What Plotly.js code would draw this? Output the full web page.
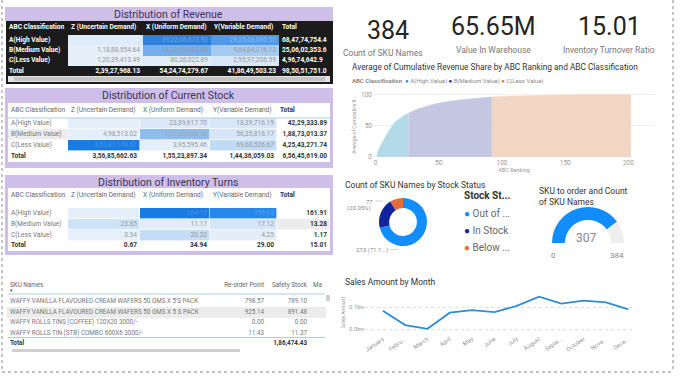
<!DOCTYPE html>
<html><head><meta charset="utf-8">
<script src="https://cdn.plot.ly/plotly-3.0.1.min.js"></script>
<style>html,body{margin:0;padding:0;background:#fff}#c{width:680px;height:377px}</style>
</head><body><div id="c"></div><script>
const W=680,H=377;
const px=v=>v/W, py=v=>1-v/H;

// ---------------- data ----------------
const abcClasses=['A(High Value)','B(Medium Value)','C(Less Value)'];
const demandTypes=['Z (Uncertain Demand)','X (Uniform Demand)','Y(Variable Demand)'];

const revenueZ=[null,11888554.64,12039413.49];
const revenueX=[392206673.92,142229582.86,8038022.89];
const revenueY=[292568080.52,96484216.12,29597206.59];
const revenueRowTotal=[684774754.44,250602353.62,49674642.97];
const revenueColTotal=[23927968.13,542474279.67,418649503.23];
const revenueGrandTotal=985051751.03;

const stockZ=[null,498513.02,35187149.61];
const stockX=[2389617.70,12738684.18,395595.46];
const stockY=[1839716.19,5635816.17,6960526.67];
const stockRowTotal=[4229333.89,18873013.37,42543271.74];
const stockColTotal=[35685662.63,15523897.34,14436059.03];
const stockGrandTotal=65645619.00;

const turnsZ=[null,23.85,0.34];
const turnsX=[164.13,11.17,20.32];
const turnsY=[159.03,17.12,4.25];
const turnsRowTotal=[161.91,13.28,1.17];
const turnsColTotal=[0.67,34.94,29.00];
const turnsGrandTotal=15.01;

const skuNames=["WAFFY VANILLA FLAVOURED CREAM WAFERS 50 GMS X 5'S PACK",
  "WAFFY VANILLA FLAVOURED CREAM WAFERS 50 GMS X 5 S PACK",
  "WAFFY ROLLS TINS (COFFEE) 120X20 3000/-",
  "WAFFY ROLLS TIN (STB) COMBO 600X6 3000/-"];
const skuHeaders=['SKU Names','Re-order Point','Safety Stock','Ma'];
const reorderPoint=[798.57,925.14,0.00,11.43];
const safetyStock=[789.10,891.48,0.00,11.37];
const safetyStockTotal=186474.43;

const kpiValues=['384','65.65M','15.01'];
const kpiLabels=['Count of SKU Names','Value In Warehouse','Inventory Turnover Ratio'];

const rankA=[1,3,5,8,10,12,15,18,20,23,26];
const shareA=[3,14,22,33,40,46,55,60,63,67,70];
const rankB=[26,30,35,40,45,50,55,60,65,70,75,80,85,92];
const shareB=[70,74,78,81,84,86,88,89.5,91,92,93,94,95,96];
const rankC=[92,100,110,120,130,140,150,160,170,180,190,202];
const shareC=[96,96.8,97.5,98.1,98.6,99,99.3,99.5,99.7,99.8,99.9,100];

const stockStatus=['Out of ...','In Stock','Below ...'];
const stockCounts=[273,77,34];
const skuToOrder=307, skuCount=384;

const months=['January','Febru...','March','April','May','June','July','August','Septe...','October','Nove...','Dece...'];
const salesAmount=[83e6,18e6,1e6,74e6,86e6,77e6,105e6,147e6,115e6,129e6,121e6,89e6];
const salesTickVals=[0,1e8], salesTickText=['0.0bn','0.1bn'];

// ---------------- helpers ----------------
function inr(v){
  if(v===null||v===undefined) return '';
  const s=v.toFixed(2); let [i,d]=s.split('.');
  let last3=i.slice(-3), rest=i.slice(0,-3);
  if(rest){ rest=rest.replace(/\B(?=(\d{2})+(?!\d))/g,','); return rest+','+last3+'.'+d; }
  return last3+'.'+d;
}
const f2=v=>(v===null?'':v.toFixed(2));
const B=s=>(s===''?'':'<b>'+s+'</b>');
const FONT='Roboto, "Open Sans", sans-serif';
const PBI=['#118DFF','#12239E','#E66C37'];
const purple='#cdbfe8';
const traces=[];

// table drawn as heatmap cells + text on a pixel-unit axis (x3/y3)
function drawTable(cfg){
  const palette=[];
  const z=cfg.fills.map(r=>r.map(c=>{ if(!c) return null; let k=palette.indexOf(c);
    if(k<0){palette.push(c);k=palette.length-1;} return k;}));
  const n=palette.length, cs=[];
  palette.forEach((c,i)=>{cs.push([i/n,c]);cs.push([(i+1)/n,c]);});
  traces.push({type:'heatmap',x:cfg.cols,y:cfg.rows,z:z,zmin:-0.5,zmax:n-0.5,colorscale:cs,showscale:false,
    xgap:cfg.gap||0,ygap:cfg.gap||0,xaxis:'x3',yaxis:'y3',hoverinfo:'skip'});
  const tx=[],ty=[],tt=[],tp=[],tc=[];
  cfg.texts.forEach((r,ri)=>r.forEach((t,ci)=>{
    if(t===''||t===null) return;
    const al=(cfg.rowAlign&&cfg.rowAlign[ri])?cfg.rowAlign[ri]:cfg.aligns[ci];
    tx.push(al==='left'?cfg.cols[ci]+3:cfg.cols[ci+1]-3);
    ty.push((cfg.rows[ri]+cfg.rows[ri+1])/2);
    tt.push(t); tp.push(al==='left'?'middle right':'middle left'); tc.push(cfg.colors[ri][ci]);
  }));
  traces.push({type:'scatter',mode:'text',x:tx,y:ty,text:tt,textposition:tp,cliponaxis:false,
    textfont:{family:FONT,size:cfg.size,color:tc},xaxis:'x3',yaxis:'y3',hoverinfo:'skip'});
}

// ---- table 1: revenue ----
{
  const K='#1b1b1b';
  const rowsTxt=abcClasses.map((c,i)=>[B(c),inr(revenueZ[i]),inr(revenueX[i]),inr(revenueY[i]),B(inr(revenueRowTotal[i]).slice(0,-1))]);
  drawTable({cols:[6,68,143,211,279,333],rows:[21,33,35,45.3,55.6,65.9,66.9,75],size:6.6,
    aligns:['left','right','right','right','left'],rowAlign:{0:'left'},
    fills:[[K,K,K,K,K],[null,null,null,null,null],
      [K,'#dfecf8','#2f80d9','#4e9ae8',K],[K,'#e4eff9','#74aeec','#a6cbf2',K],[K,'#e4eff9','#e0edf9','#d9e8f8',K],
      [null,null,null,null,null],[K,K,K,K,K]],
    texts:[[B('ABC Classification')].concat(demandTypes.map(B),[B('Total')]),['','','','',''],
      rowsTxt[0],rowsTxt[1],rowsTxt[2],['','','','',''],
      [B('Total'),B(inr(revenueColTotal[0])),B(inr(revenueColTotal[1])),B(inr(revenueColTotal[2])),B(inr(revenueGrandTotal).slice(0,-1))]],
    colors:[['#fff','#fff','#fff','#fff','#fff'],[],
      ['#fff','#999','#6aa6e6','#85b9ee','#fff'],['#fff','#999','#9a9a9a','#999','#fff'],['#fff','#999','#999','#999','#fff'],[],
      ['#fff','#fff','#fff','#fff','#fff']]});
}
// ---- tables 2 & 3 ----
function lightTable(rows,Z,X,Yv,rowT,colT,grand,fmt,fills,darkCells){
  const txt=[['ABC Classification'].concat(demandTypes,[B('Total')])];
  abcClasses.forEach((c,i)=>txt.push([c,fmt(Z[i]),fmt(X[i]),fmt(Yv[i]),B(fmt(rowT[i]))]));
  txt.push([B('Total'),B(fmt(colT[0])),B(fmt(colT[1])),B(fmt(colT[2])),B(fmt(grand))]);
  const colors=txt.map((r,ri)=>r.map((t,ci)=>{
    if(ri===0) return ci===4?'#333':'#666';
    if(ri===4||ci===4) return '#333';
    if(ci===0) return '#777';
    return darkCells[(ri)+','+ci]||'#999';}));
  drawTable({cols:[8,68,140,210,277,330],rows:rows,size:6.6,gap:0.6,
    aligns:['left','right','right','right','right'],rowAlign:{0:'left'},fills:fills,texts:txt,colors:colors});
}
lightTable([103,118,129,140,151,162],stockZ,stockX,stockY,stockRowTotal,stockColTotal,stockGrandTotal,inr,
  [['#fff','#fff','#fff','#fff','#fff'],
   ['#fff','#e4effa','#dde9f8','#d8e7f8','#fff'],
   ['#ececec','#e4effa','#8ebcee','#d6e6f8','#fff'],
   ['#fff','#1a7be3','#e4effa','#c2dbf5','#fff'],
   ['#fff','#fff','#fff','#fff','#fff']],{'3,1':'#4a95e8','2,2':'#a5a5a5'});
{
  // table 3 has a small gap between header and body
  const rows=[188,203,208,219,230,241,250];
  const txt=[['ABC Classification'].concat(demandTypes,[B('Total')]),['','','','','']];
  abcClasses.forEach((c,i)=>txt.push([c,f2(turnsZ[i]),f2(turnsX[i]),f2(turnsY[i]),B(f2(turnsRowTotal[i]))]));
  txt.push([B('Total'),B(f2(turnsColTotal[0])),B(f2(turnsColTotal[1])),B(f2(turnsColTotal[2])),B(f2(turnsGrandTotal))]);
  const dark={'2,2':'#4a95e8','2,3':'#5aa2ec'};
  const colors=txt.map((r,ri)=>r.map((t,ci)=>{
    if(ri===0) return ci===4?'#333':'#666';
    if(ri===5||ci===4) return '#333';
    if(ci===0) return '#777';
    return dark[ri+','+ci]||'#999';}));
  drawTable({cols:[8,68,140,210,277,330],rows:rows,size:6.6,gap:0.6,
    aligns:['left','right','right','right','right'],rowAlign:{0:'left'},
    fills:[['#fff','#fff','#fff','#fff','#fff'],[null,null,null,null,null],
      ['#fff','#e4effa','#1a7be3','#2887e8','#fff'],
      ['#fff','#cfe3f7','#e1edf9','#d5e6f8','#ececec'],
      ['#fff','#e6f0fb','#c4dcf5','#e3eefa','#fff'],
      ['#fff','#fff','#fff','#fff','#fff']],texts:txt,colors:colors});
}
// ---- table 4: SKU list ----
{
  const txt=[skuHeaders.slice()];
  skuNames.forEach((s,i)=>txt.push([s,f2(reorderPoint[i]),f2(safetyStock[i]),'']));
  txt.push([B('Total'),'',B(inr(safetyStockTotal)),'']);
  const colors=txt.map((r,ri)=>r.map(()=>ri===0?'#666':(ri===5?'#333':'#777')));
  drawTable({cols:[7,222,267,310,326],rows:[278,292,296,307,317.5,328,338,349],size:6.3,
    aligns:['left','right','right','left'],
    fills:[['#fff','#fff','#fff','#fff'],[null,null,null,null],['#fff','#fff','#fff','#fff'],
      ['#ececec','#ececec','#ececec','#ececec'],['#fff','#fff','#fff','#fff'],['#fff','#fff','#fff','#fff'],
      ['#fff','#fff','#fff','#fff']],
    texts:[txt[0],['','','',''],txt[1],txt[2],txt[3],txt[4],txt[5]],
    colors:[colors[0],[],colors[1],colors[2],colors[3],colors[4],colors[5]]});
}

// ---------------- charts ----------------
const areaColors=['#b2dae9','#c4c7e1','#f3d5c3'];
[[rankA,shareA],[rankB,shareB],[rankC,shareC]].forEach((d,i)=>traces.push({type:'scatter',mode:'lines',
  x:d[0],y:d[1],fill:'tozeroy',fillcolor:areaColors[i],line:{color:areaColors[i],width:0.5,shape:'spline'},
  xaxis:'x',yaxis:'y',name:abcClasses[i],hoverinfo:'skip'}));

traces.push({type:'pie',labels:stockStatus,values:stockCounts,hole:0.58,sort:false,direction:'clockwise',
  rotation:0,marker:{colors:PBI,line:{width:0}},textinfo:'none',showlegend:false,hoverinfo:'skip',
  domain:{x:[px(379),px(427)],y:[py(246),py(198)]}});

traces.push({type:'pie',values:[skuToOrder,skuCount-skuToOrder,skuCount],hole:0.64,sort:false,direction:'clockwise',
  rotation:-90,marker:{colors:['#118DFF','#eeeeee','rgba(0,0,0,0)'],line:{width:0}},textinfo:'none',
  showlegend:false,hoverinfo:'skip',domain:{x:[px(552),px(624)],y:[py(279),py(207)]}});

traces.push({type:'scatter',mode:'lines',x:months,y:salesAmount,xaxis:'x2',yaxis:'y2',
  line:{color:'#2a8fd9',width:1.8},hoverinfo:'skip'});

// ---------------- annotations ----------------
const ann=[];
const A=(o)=>ann.push(Object.assign({xref:'paper',yref:'paper',showarrow:false,xanchor:'center',yanchor:'middle',
  font:{family:FONT,size:8,color:'#252423'}},o));
A({x:px(168),y:py(14),text:'Distribution of Revenue',font:{family:FONT,size:10.5,color:'#3d3357'}});
A({x:px(168),y:py(96),text:'Distribution of Current Stock',font:{family:FONT,size:10.5,color:'#3d3357'}});
A({x:px(168),y:py(182),text:'Distribution of Inventory Turns',font:{family:FONT,size:10.5,color:'#3d3357'}});
A({x:px(11),y:py(290),text:'▼',font:{family:FONT,size:4.5,color:'#555'}});
const kx=[388,493,609], ky=[30,27,27], ly=[53,50,50];
kpiValues.forEach((v,i)=>{A({x:px(kx[i]),y:py(ky[i]),text:v,font:{family:FONT,size:25,color:'#252423'}});
  A({x:px(kx[i]-(i==0?5:0)),y:py(ly[i]),text:kpiLabels[i],font:{family:FONT,size:8.5,color:'#777'}});});
A({x:px(350),y:py(67),xanchor:'left',text:'Average of Cumulative Revenue Share by ABC Ranking and ABC Classification',font:{family:FONT,size:8.3,color:'#333'}});
A({x:px(350),y:py(81),xanchor:'left',text:'<b>ABC Classification</b>  '+abcClasses.map((c,i)=>`<span style="color:${PBI[i]}">●</span> ${c}`).join(' '),font:{family:FONT,size:6,color:'#888'}});
A({x:px(343),y:py(185),xanchor:'left',text:'Count of SKU Names by Stock Status',font:{family:FONT,size:8.5,color:'#333'}});
A({x:px(383),y:py(201),ax:-8,ay:0,showarrow:true,arrowhead:0,arrowwidth:0.6,arrowcolor:'#bbb',xanchor:'right',
  text:`${stockCounts[1]}`,font:{family:FONT,size:6,color:'#888'}});
A({x:px(373),y:py(207.5),xanchor:'right',text:`(${(stockCounts[1]/skuCount*100).toFixed(2)}%)`,font:{family:FONT,size:6,color:'#888'}});
A({x:px(398),y:py(249.5),ax:-8,ay:0,showarrow:true,arrowhead:0,arrowwidth:0.6,arrowcolor:'#bbb',xanchor:'right',
  text:`${stockCounts[0]} (${(stockCounts[0]/skuCount*100).toFixed(1)}...)`,font:{family:FONT,size:6,color:'#888'}});
A({x:px(462),y:py(195),xanchor:'left',text:'<b>Stock St...</b>',font:{family:FONT,size:10,color:'#333'}});
stockStatus.forEach((s,i)=>A({x:px(462),y:py(213+i*17),xanchor:'left',text:`<span style="color:${PBI[i]}">●</span> ${s}`,font:{family:FONT,size:10,color:'#666'}}));
A({x:px(537),y:py(196.5),xanchor:'left',align:'left',text:'SKU to order and Count<br>of SKU Names',font:{family:FONT,size:8.5,color:'#333'}});
A({x:px(586),y:py(238),text:`${skuToOrder}`,font:{family:FONT,size:12,color:'#888'}});
A({x:px(553),y:py(255),text:'0',font:{family:FONT,size:8,color:'#888'}});
A({x:px(617),y:py(255),text:`${skuCount}`,font:{family:FONT,size:8,color:'#888'}});
A({x:px(343),y:py(282),xanchor:'left',text:'Sales Amount by Month',font:{family:FONT,size:8.5,color:'#333'}});

// ---------------- shapes ----------------
const R=(x0,y0,x1,y1,fill,extra)=>Object.assign({type:'rect',xref:'paper',yref:'paper',x0:px(x0),x1:px(x1),y0:py(y1),y1:py(y0),
  fillcolor:fill,line:{width:0},layer:'below'},extra||{});
const L=(x0,y0,x1,y1,col,w,dash)=>({type:'line',xref:'paper',yref:'paper',x0:px(x0),x1:px(x1),y0:py(y0),y1:py(y1),
  line:{color:col,width:w||1,dash:dash||'solid'}});
const shapes=[
  R(5,7,333,21,purple), R(6,21,333,84,'#1b1b1b'),
  R(8,76,330,82,'#e3e3e3'), R(14,77,325,81,'#c4c4c4'),
  R(5,88,333,168,purple), R(8,103,330,162,'#fff'),
  R(5,175,333,255,purple), R(8,188,330,251,'#fff'),
  L(2,0,2,372,'#888',1,'dot'), L(673,0,673,372,'#888',1,'dot'), L(2,372,673,372,'#888',1,'dot'),
  L(8,118,330,118,'#a9cfe6'), L(8,294,325,294,'#a9cfe6'), L(8,337.5,325,337.5,'#a9cfe6'),
  R(12,349,240,352,'#cfcfcf',{layer:'above'}), R(326,295,330,301,'#cfcfcf',{layer:'above'})
];

const layout={width:W,height:H,margin:{l:0,r:0,t:0,b:0},paper_bgcolor:'#fff',plot_bgcolor:'rgba(0,0,0,0)',
  showlegend:false,font:{family:FONT},
  xaxis:{domain:[px(373),px(655)],range:[-2,221],tickvals:[0,50,100,150,200],showgrid:false,zeroline:false,
    tickfont:{size:6.5,color:'#999'},anchor:'y',title:{text:'ABC Ranking',font:{size:5.5,color:'#999'},standoff:2}},
  yaxis:{domain:[py(157),py(92)],range:[0,104],tickvals:[0,50,100],gridcolor:'#f0f0f0',zeroline:false,
    tickfont:{size:6.5,color:'#999'},anchor:'x',title:{text:'Average of Cumulative R...',font:{size:5,color:'#999'},standoff:4}},
  xaxis2:{domain:[px(365),px(635)],range:[-0.8,11.3],type:'category',tickangle:-35,showgrid:false,zeroline:false,
    tickfont:{size:6,color:'#999'},anchor:'y2'},
  yaxis2:{domain:[py(333.4),py(291.6)],range:[-0.02e9,0.17e9],tickvals:salesTickVals,ticktext:salesTickText,
    gridcolor:'#ddd',griddash:'dot',zeroline:false,tickfont:{size:6,color:'#999'},anchor:'x2',
    title:{text:'Sales Amount',font:{size:5,color:'#999'},standoff:3}},
  xaxis3:{domain:[0,1],range:[0,W],visible:false,anchor:'y3',fixedrange:true},
  yaxis3:{domain:[0,1],range:[H,0],visible:false,anchor:'x3',fixedrange:true},
  annotations:ann,shapes:shapes};

Plotly.newPlot('c',traces,layout,{staticPlot:true,displayModeBar:false});
</script></body></html>
